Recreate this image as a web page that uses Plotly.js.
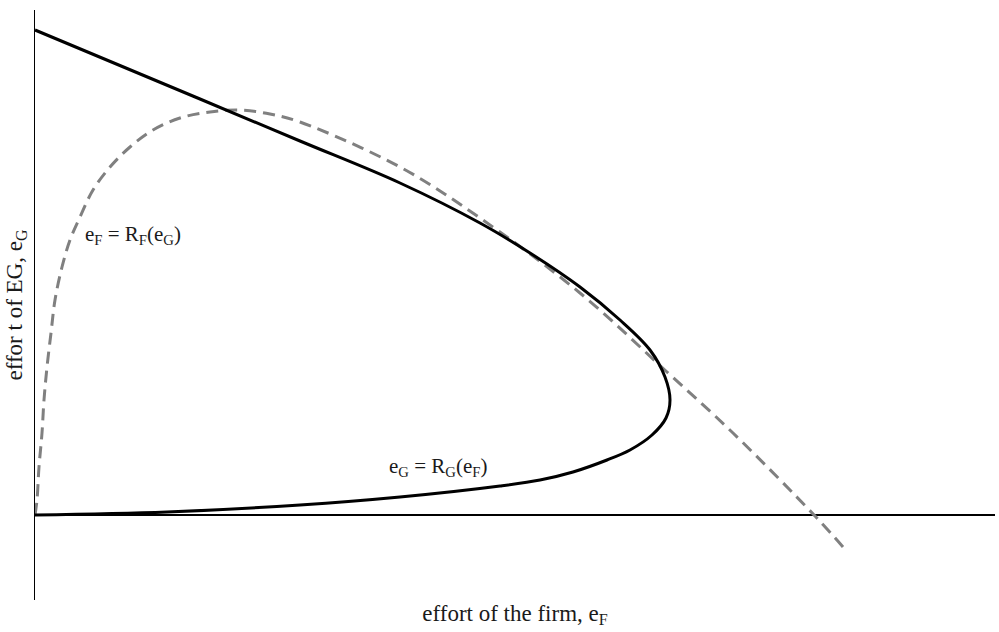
<!DOCTYPE html>
<html>
<head>
<meta charset="utf-8">
<script src="https://cdn.plot.ly/plotly-3.0.1.min.js"></script>
<style>html,body{margin:0;padding:0;background:#fff;}#chart{width:999px;height:632px;}</style>
</head>
<body>
<div id="chart"></div>
<script>
// Reaction curve of EG: e_G = R_G(e_F)  (solid)
const rgX = [0, 1.65, 2.65, 3.65, 4.45, 4.95, 5.45, 5.85, 6.15, 6.30, 6.35, 6.31, 6.17, 5.95, 5.72, 5.38, 5.05, 4.65, 3.65, 2.65, 1.32, 0];
const rgY = [4.85, 4.16, 3.74, 3.32, 2.92, 2.62, 2.28, 1.95, 1.65, 1.38, 1.15, 0.97, 0.80, 0.65, 0.55, 0.43, 0.35, 0.29, 0.18, 0.10, 0.03, 0];
// Reaction curve of the firm: e_F = R_F(e_G)  (dashed)
const rfX = [0, 0.02, 0.04, 0.07, 0.09, 0.12, 0.16, 0.20, 0.27, 0.35, 0.45, 0.58, 0.75, 0.95, 1.18, 1.45, 1.75, 2.05, 2.35, 2.65, 3.65, 4.45, 5.45, 6.32, 6.98, 7.80, 8.08];
const rfY = [0, 0.15, 0.48, 0.82, 1.15, 1.48, 1.82, 2.15, 2.48, 2.75, 2.98, 3.25, 3.48, 3.68, 3.85, 3.97, 4.03, 4.05, 4.01, 3.93, 3.48, 2.97, 2.22, 1.43, 0.82, -0.01, -0.32];

const labelRF = "e<sub>F</sub> = R<sub>F</sub>(e<sub>G</sub>)";
const labelRG = "e<sub>G</sub> = R<sub>G</sub>(e<sub>F</sub>)";
const xTitle = "effort of the firm, e<sub>F</sub>";
const yTitle = "effor t of EG, e<sub>G</sub>";

const serif = "Liberation Serif, Times New Roman, serif";

const traces = [
  {x: rfX, y: rfY, mode: "lines", type: "scatter", name: "R_F",
   line: {color: "#808080", width: 3, dash: "12px,7px", shape: "spline", smoothing: 1},
   hoverinfo: "skip"},
  {x: rgX, y: rgY, mode: "lines", type: "scatter", name: "R_G",
   line: {color: "#000000", width: 3, shape: "spline", smoothing: 1},
   hoverinfo: "skip"}
];

const layout = {
  width: 999, height: 632,
  margin: {l: 35, r: 4, t: 10, b: 32},
  paper_bgcolor: "#fff", plot_bgcolor: "#fff",
  showlegend: false,
  font: {family: serif, color: "#1a1a1a", size: 21},
  xaxis: {range: [0, 9.6], showgrid: false, zeroline: false, showline: false,
          showticklabels: false, ticks: "", fixedrange: true,
          title: {text: xTitle, font: {family: serif, size: 23, color: "#1a1a1a"}, standoff: 4}},
  yaxis: {range: [-0.85, 5.05], showgrid: false, zeroline: true, zerolinecolor: "#000", zerolinewidth: 1.5,
          showline: true, linecolor: "#000", linewidth: 1.5,
          showticklabels: false, ticks: "", fixedrange: true,
          title: {text: yTitle, font: {family: serif, size: 23, color: "#1a1a1a"}, standoff: 4}},
  annotations: [
    {x: 0.48, y: 2.80, xref: "x", yref: "y", text: labelRF, showarrow: false,
     xanchor: "left", yanchor: "middle", font: {family: serif, size: 21, color: "#1a1a1a"}},
    {x: 3.52, y: 0.48, xref: "x", yref: "y", text: labelRG, showarrow: false,
     xanchor: "left", yanchor: "middle", font: {family: serif, size: 21, color: "#1a1a1a"}}
  ]
};

Plotly.newPlot("chart", traces, layout, {displayModeBar: false, staticPlot: true});
</script>
</body>
</html>
